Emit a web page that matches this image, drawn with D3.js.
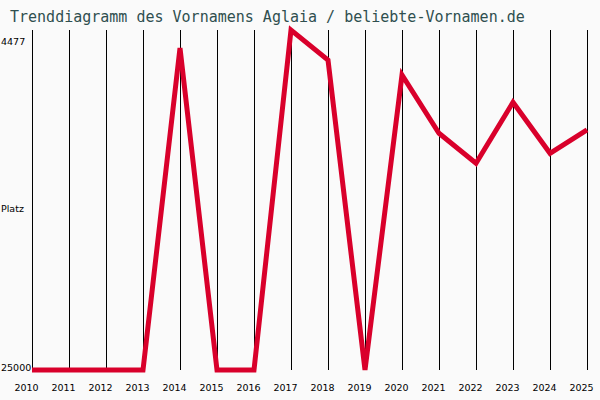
<!DOCTYPE html>
<html>
<head>
<meta charset="utf-8">
<script src="https://cdn.jsdelivr.net/npm/d3@7"></script>
<style>
  body { margin: 0; background: #fafafa; }
  svg { display: block; }
</style>
</head>
<body>
<div id="chart-area"></div>
<script>
// data
const years = [2010, 2011, 2012, 2013, 2014, 2015, 2016, 2017, 2018, 2019, 2020, 2021, 2022, 2023, 2024, 2025];
const ranks = [25000, 25000, 25000, 25000, 5560, 25000, 25000, 4477, 6290, 25000, 7190, 10710, 12520, 8840, 11920, 10510];
const rankTop = 4477, rankBottom = 25000;
const title = "Trenddiagramm des Vornamens Aglaia / beliebte-Vornamen.de";

let width = 600, height = 400;

let svg = d3.select("#chart-area").append("svg")
    .attr("width", width)
    .attr("height", height);

svg.append("rect")
    .attr("width", width)
    .attr("height", height)
    .attr("fill", "#fafafa");

// scales
let x = d3.scaleLinear()
    .domain([years[0], years[years.length - 1]])
    .range([32, 587]);

let y = d3.scaleLinear()
    .domain([rankTop, rankBottom])
    .range([30, 370]);

// title
svg.append("text")
    .attr("x", 10)
    .attr("y", 22)
    .attr("font-family", "DejaVu Sans Mono")
    .attr("font-size", 15)
    .attr("fill", "#2f4f4f")
    .text(title);

// vertical grid lines, one per year
svg.selectAll(".grid")
    .data(years)
  .enter().append("line")
    .attr("class", "grid")
    .attr("x1", d => Math.round(x(d)) + 0.5)
    .attr("x2", d => Math.round(x(d)) + 0.5)
    .attr("y1", y(rankTop))
    .attr("y2", y(rankBottom))
    .attr("stroke", "#000")
    .attr("stroke-width", 1);

// year labels
svg.selectAll(".year")
    .data(years)
  .enter().append("text")
    .attr("class", "year")
    .attr("x", d => x(d) - 5.5)
    .attr("y", 391)
    .attr("text-anchor", "middle")
    .attr("font-family", "DejaVu Sans")
    .attr("font-size", 9.5)
    .attr("fill", "#000")
    .text(d => d);

// y labels
let labelFont = g => g.attr("font-family", "DejaVu Sans").attr("font-size", 9.5).attr("fill", "#000");

svg.append("text").call(labelFont)
    .attr("x", 1).attr("y", y(rankTop) + 15)
    .text(rankTop);

svg.append("text").call(labelFont)
    .attr("x", 1).attr("y", y(rankBottom) + 1)
    .text(rankBottom);

svg.append("text").call(labelFont)
    .attr("x", 1).attr("y", 212)
    .text("Platz");

// trend line
let line = d3.line()
    .x((d, i) => x(years[i]))
    .y(d => y(d));

svg.append("path")
    .datum(ranks)
    .attr("d", line)
    .attr("fill", "none")
    .attr("stroke", "#d9002b")
    .attr("stroke-width", 5);
</script>
</body>
</html>
